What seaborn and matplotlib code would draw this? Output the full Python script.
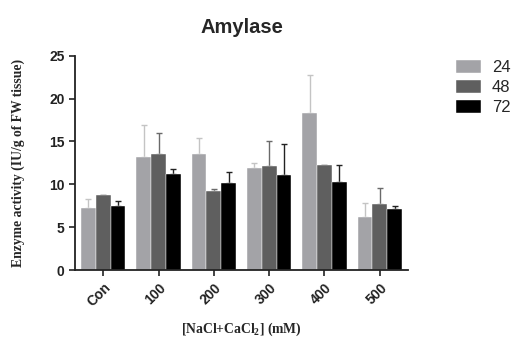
import numpy as np
import pandas as pd
import matplotlib
matplotlib.use("Agg")
import matplotlib.pyplot as plt
import seaborn as sns

# data
treatments = ["Con", "100", "200", "300", "400", "500"]
hours = ["24", "48", "72"]
mean_24 = [7.2, 13.2, 13.5, 11.9, 18.3, 6.2]
mean_48 = [8.7, 13.5, 9.2, 12.1, 12.2, 7.7]
mean_72 = [7.5, 11.2, 10.2, 11.1, 10.3, 7.1]
sd_24 = [1.1, 3.7, 1.9, 0.6, 4.4, 1.6]
sd_48 = [0.1, 2.5, 0.2, 3.0, 0.05, 1.9]
sd_72 = [0.5, 0.6, 1.2, 3.6, 1.9, 0.4]

colors = ["#a3a3a7", "#5f5f5f", "#000000"]
err_colors = ["#c4c4c4", "#6a6a6a", "#222222"]

df = pd.DataFrame({
    "treatment": treatments * 3,
    "hour": [h for h in hours for _ in treatments],
    "value": mean_24 + mean_48 + mean_72,
})
sds = [sd_24, sd_48, sd_72]

sns.set_style("ticks")
plt.rcParams["font.family"] = ["Liberation Sans", "DejaVu Sans"]
plt.rcParams["mathtext.fontset"] = "custom"
plt.rcParams["mathtext.rm"] = "Liberation Serif"
plt.rcParams["mathtext.bf"] = "Liberation Serif:bold"

fig = plt.figure(figsize=(5.17, 3.38), dpi=100)
ax = fig.add_axes([75 / 517, 1 - 270 / 338, (408 - 75) / 517, (270 - 55.7) / 338])

sns.barplot(data=df, x="treatment", y="value", hue="hour", order=treatments,
            hue_order=hours, palette=colors, errorbar=None, width=0.8,
            saturation=1, edgecolor="white", linewidth=0.3, ax=ax)

# upward-only error bars, placed at the bars seaborn drew
bars = [p for p in ax.patches if p.get_height() > 0]
for i, h in enumerate(hours):
    group = bars[i * len(treatments):(i + 1) * len(treatments)]
    xs = [p.get_x() + p.get_width() / 2 for p in group]
    ys = [p.get_height() for p in group]
    ax.errorbar(xs, ys, yerr=[np.zeros(len(ys)), sds[i]], fmt="none",
                ecolor=err_colors[i], elinewidth=1, capsize=2.5, capthick=1,
                zorder=1)
for p in bars:
    p.set_zorder(2)

ax.set_ylim(0, 25)
ax.set_xlim(-0.51, 5.51)
ax.set_yticks([0, 5, 10, 15, 20, 25])
sns.despine(ax=ax)
for s in ["left", "bottom"]:
    ax.spines[s].set_linewidth(1.3)
    ax.spines[s].set_color("#222222")
ax.tick_params(axis="both", length=4, width=1.2, colors="#222222")
for lab in ax.get_yticklabels():
    lab.set_fontweight("bold")
    lab.set_fontsize(10)
ax.set_xticks(range(len(treatments)))
ax.set_xticklabels(treatments, rotation=45, ha="right", rotation_mode="anchor",
                   fontweight="bold", fontsize=10)

ax.set_title("Amylase", fontsize=14.5, fontweight="bold", pad=16)
ax.set_ylabel("Enzyme activity (IU/g of FW tissue)", family="Liberation Serif",
              fontweight="bold", fontsize=9.8)
ax.yaxis.set_label_coords(-0.15, 0.5)
ax.set_xlabel("[NaCl+CaCl$_\\mathbf{2}$] (mM)", family="Liberation Serif",
              fontweight="bold", fontsize=9.8)
ax.xaxis.set_label_coords(0.5, -0.235)

ax.legend(loc="upper left", bbox_to_anchor=(456 / 517, 1 - 60 / 338),
          bbox_transform=fig.transFigure, borderaxespad=0, borderpad=0,
          frameon=False, fontsize=12, handlelength=1.5, handleheight=0.8,
          labelspacing=0.3, handletextpad=0.65)

fig.savefig("out.png", dpi=100)
